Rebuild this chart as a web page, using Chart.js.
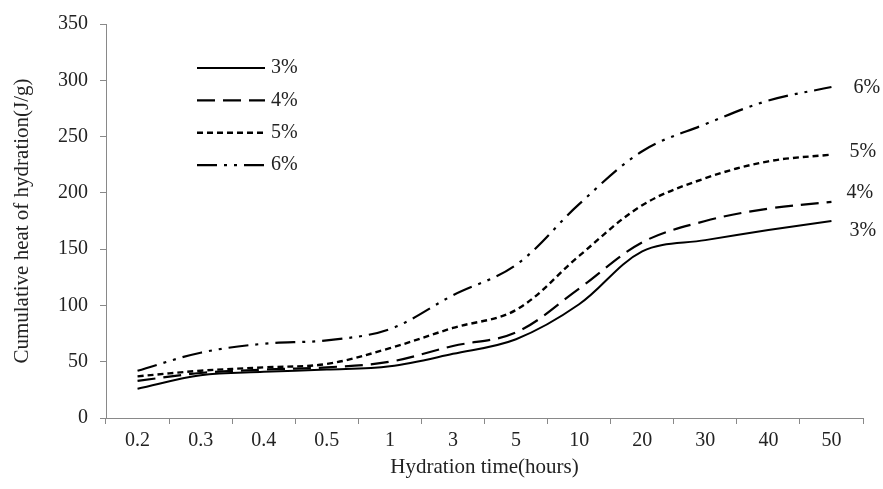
<!DOCTYPE html>
<html>
<head>
<meta charset="utf-8">
<script src="https://cdn.jsdelivr.net/npm/chart.js@4"></script>
<style>
html, body { margin: 0; padding: 0; background: #fff; }
</style>
</head>
<body>
<canvas id="line-chart" width="883" height="489"></canvas>
<script>
// categories (hours) and cumulative heat values (J/g)
var hours = ['0.2', '0.3', '0.4', '0.5', '1', '3', '5', '10', '20', '30', '40', '50'];
var heat3 = [26, 38, 41, 43, 46, 57, 70, 101, 148, 158, 167, 175];
var heat4 = [33, 40, 43, 45, 50, 64, 76, 115, 156, 175, 186, 192];
var heat5 = [37, 42, 45, 48, 62, 80, 96, 144, 189, 213, 228, 234];
var heat6 = [42, 58, 66, 69, 79, 109, 136, 190, 237, 261, 282, 294];
var seriesNames = ['3%', '4%', '5%', '6%'];
var yTicks = [0, 50, 100, 150, 200, 250, 300, 350];

var serif = '"Liberation Serif", "Times New Roman", serif';
var axisGrey = '#898989';
var textColor = '#222';

var dashes = [[], [18, 8], [6, 4], [20, 7, 3, 7, 3, 7]];
var widths = [2, 2.2, 2.4, 2.2];
// offsets of the end labels from the last point
var endLabelDx = [18, 15, 18, 22];
var endLabelDy = [10, -9, -3, 1];

var makeSet = function(label, data, i) {
    return {
        label: label,
        data: data,
        borderColor: '#000',
        backgroundColor: '#000',
        borderWidth: widths[i],
        borderDash: dashes[i],
        pointRadius: 0,
        tension: 0.35,
        fill: false
    };
};

var lineChartData = {
    labels: hours,
    datasets: [
        makeSet(seriesNames[0], heat3, 0),
        makeSet(seriesNames[1], heat4, 1),
        makeSet(seriesNames[2], heat5, 2),
        makeSet(seriesNames[3], heat6, 3)
    ]
};

// legend inside the plot and labels at the line ends
var annotate = {
    id: 'annotate',
    afterDatasetsDraw: function(chart) {
        var ctx = chart.ctx;
        ctx.save();
        ctx.font = '20px ' + serif;
        ctx.fillStyle = textColor;
        ctx.textBaseline = 'middle';
        ctx.textAlign = 'left';
        chart.data.datasets.forEach(function(ds, i) {
            var y = 68 + i * 32.4;
            ctx.beginPath();
            ctx.strokeStyle = '#000';
            ctx.lineWidth = widths[i];
            ctx.setLineDash(dashes[i]);
            ctx.moveTo(197, y);
            ctx.lineTo(265, y);
            ctx.stroke();
            ctx.setLineDash([]);
            ctx.fillText(ds.label, 271, y);

            var pts = chart.getDatasetMeta(i).data;
            var last = pts[pts.length - 1];
            ctx.fillText(ds.label, last.x + endLabelDx[i], last.y + endLabelDy[i]);
        });
        ctx.restore();
    }
};

var ctx = document.getElementById('line-chart').getContext('2d');
var lineChart = new Chart(ctx, {
    type: 'line',
    data: lineChartData,
    plugins: [annotate],
    options: {
        responsive: false,
        animation: false,
        layout: { padding: { top: 18, right: 20, left: 0, bottom: 0 } },
        plugins: {
            legend: { display: false },
            tooltip: { enabled: false }
        },
        scales: {
            x: {
                offset: true,
                grid: {
                    offset: true,
                    drawOnChartArea: false,
                    drawTicks: true,
                    tickLength: 6,
                    color: axisGrey
                },
                border: { color: axisGrey, width: 1 },
                ticks: {
                    color: textColor,
                    font: { family: serif, size: 20 },
                    padding: 5,
                    maxRotation: 0,
                    autoSkip: false
                },
                title: {
                    display: true,
                    text: 'Hydration time(hours)',
                    color: textColor,
                    font: { family: serif, size: 21 },
                    padding: { top: 2, bottom: 9 }
                },
                afterFit: function(scale) { scale.height = 71; }
            },
            y: {
                min: 0,
                max: 350,
                afterBuildTicks: function(scale) {
                    scale.ticks = yTicks.map(function(v) { return { value: v }; });
                },
                grid: {
                    drawOnChartArea: false,
                    drawTicks: true,
                    tickLength: 6,
                    color: axisGrey
                },
                border: { color: axisGrey, width: 1 },
                ticks: {
                    color: textColor,
                    font: { family: serif, size: 20 },
                    padding: 12
                },
                title: {
                    display: true,
                    text: 'Cumulative heat of hydration(J/g)',
                    color: textColor,
                    font: { family: serif, size: 21 },
                    padding: { top: 10, bottom: 0 }
                },
                afterFit: function(scale) { scale.width = 106; }
            }
        }
    }
});
</script>
</body>
</html>
